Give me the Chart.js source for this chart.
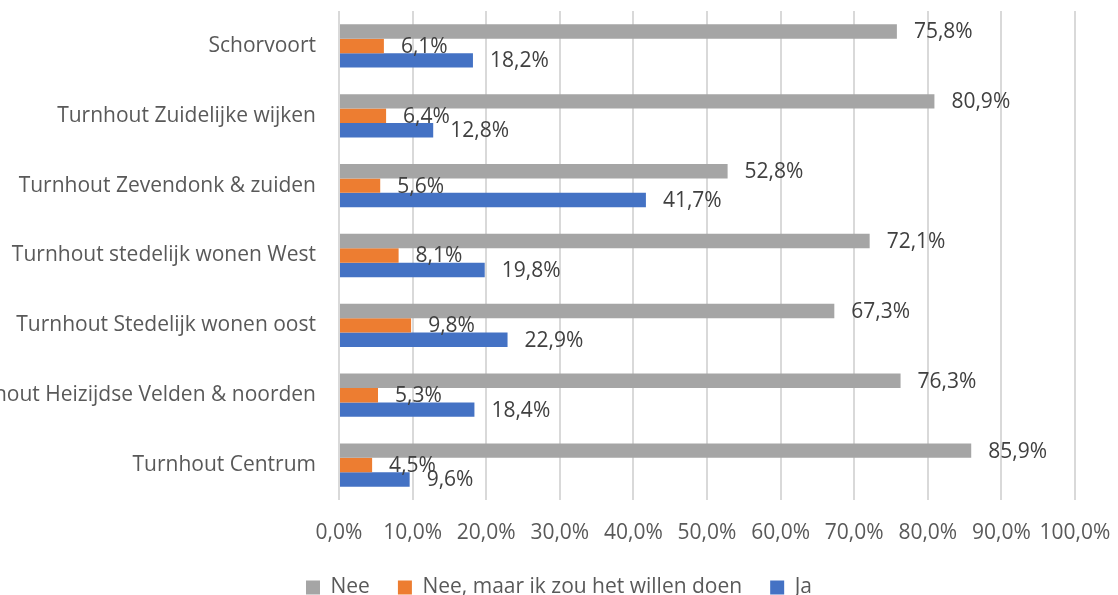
<!DOCTYPE html>
<html>
<head>
<meta charset="utf-8">
<script src="https://cdn.jsdelivr.net/npm/chart.js@4"></script>
<style>
  html, body { margin: 0; padding: 0; background: #fff; }
  #wrap { width: 1118px; height: 595px; }
</style>
</head>
<body>
<div id="wrap"><canvas id="myChart" width="1118" height="595"></canvas></div>
<script>
const ctx = document.getElementById('myChart').getContext('2d');

// categories, top to bottom
const wijken = [
  'Schorvoort',
  'Turnhout Zuidelijke wijken',
  'Turnhout Zevendonk & zuiden',
  'Turnhout stedelijk wonen West',
  'Turnhout Stedelijk wonen oost',
  'Turnhout Heizijdse Velden & noorden',
  'Turnhout Centrum'
];
const nee = [75.8, 80.9, 52.8, 72.1, 67.3, 76.3, 85.9];
const neeMaar = [6.1, 6.4, 5.6, 8.1, 9.8, 5.3, 4.5];
const ja = [18.2, 12.8, 41.7, 19.8, 22.9, 18.4, 9.6];
const xTicks = [0, 10, 20, 30, 40, 50, 60, 70, 80, 90, 100];

const FONT = '"Open Sans", "Liberation Sans", sans-serif';
const SIZE = 21;

function pct(v) {
  return v.toFixed(1).replace('.', ',') + '%';
}

// value labels right of each bar
const barLabels = {
  id: 'barLabels',
  afterDatasetsDraw(chart) {
    const c = chart.ctx;
    c.save();
    c.font = SIZE + 'px ' + FONT;
    c.fillStyle = '#404040';
    c.textAlign = 'left';
    c.textBaseline = 'middle';
    chart.data.datasets.forEach((ds, i) => {
      chart.getDatasetMeta(i).data.forEach((bar, j) => {
        c.fillText(pct(ds.data[j]), bar.x + 17, bar.y + 1);
      });
    });
    c.restore();
  }
};

new Chart(ctx, {
  type: 'bar',
  data: {
    labels: wijken,
    datasets: [
      { label: 'Nee', data: nee, backgroundColor: '#a5a5a5' },
      { label: 'Nee, maar ik zou het willen doen', data: neeMaar, backgroundColor: '#ed7d31' },
      { label: 'Ja', data: ja, backgroundColor: '#4472c4' }
    ]
  },
  options: {
    indexAxis: 'y',
    responsive: false,
    animation: false,
    datasets: { bar: { categoryPercentage: 0.62, barPercentage: 1 } },
    layout: { padding: { top: 11, right: 0, bottom: 0, left: 0 } },
    scales: {
      x: {
        min: 0,
        max: 100,
        afterBuildTicks: (scale) => { scale.ticks = xTicks.map(v => ({ value: v })); },
        afterFit: (scale) => {
          scale.paddingRight = 43;
          scale.paddingLeft = 0;
          scale.height = 49;
        },
        grid: { color: '#d9d9d9', lineWidth: 2, drawTicks: false },
        border: { display: false },
        ticks: {
          padding: 20,
          color: '#595959',
          font: { family: FONT, size: SIZE },
          callback: (v) => pct(v),
          maxRotation: 0
        }
      },
      y: {
        grid: { display: false, drawTicks: false },
        border: { display: false },
        afterFit: (scale) => {
          scale.width = 339;
          scale.paddingTop = 0;
          scale.paddingBottom = 0;
        },
        ticks: {
          padding: 23,
          color: '#595959',
          font: { family: FONT, size: SIZE }
        }
      }
    },
    plugins: {
      legend: {
        position: 'bottom',
        maxHeight: 46,
        labels: {
          boxWidth: 14,
          boxHeight: 14,
          padding: 28,
          color: '#595959',
          font: { family: FONT, size: SIZE }
        }
      },
      tooltip: { enabled: false }
    }
  },
  plugins: [barLabels]
});
</script>
</body>
</html>
